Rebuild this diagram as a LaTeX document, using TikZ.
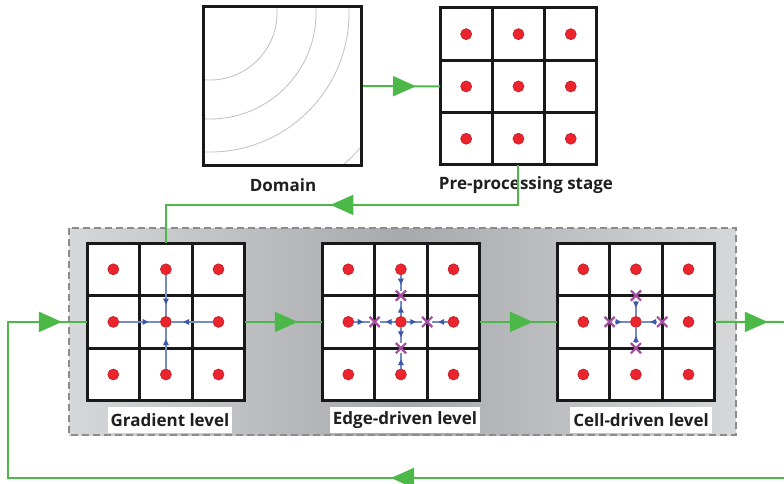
\documentclass[tikz,border=0pt]{standalone}
\usepackage{fontspec}
\setmainfont{Open Sans}
\usetikzlibrary{arrows.meta,decorations.markings,shapes.misc}

\definecolor{flowgreen}{RGB}{76,184,72}
\definecolor{dotred}{RGB}{236,36,46}
\definecolor{fluxblue}{RGB}{60,88,170}
\definecolor{facepurple}{RGB}{165,78,160}
\definecolor{stagedark}{RGB}{168,169,173}
\definecolor{stagelight}{RGB}{214,215,217}

\tikzset{
  cell/.style={draw=black!90, line width=3pt, fill=white, minimum size=52.6pt, inner sep=0pt, outer sep=0pt},
  precell/.style={cell, minimum size=52.3pt},
  dot/.style={circle, fill=dotred, draw=dotred!80!black, line width=0.6pt, minimum size=11pt, inner sep=0pt},
  face/.style={cross out, draw=facepurple, line width=2.2pt, minimum size=8pt, inner sep=0pt},
  flow/.style={draw=flowgreen, line width=2pt},
  flowtip/.style={postaction={decorate, decoration={markings,
      mark=at position #1 with {\arrow[flowgreen]{Triangle[length=23pt,width=20pt]}}}}},
  flux/.style={draw=fluxblue!70, line width=1.4pt},
  fluxtip/.style={postaction={decorate, decoration={markings,
      mark=at position #1 with {\arrow[fluxblue]{Triangle[length=6pt,width=5.5pt]}}}}},
  caption/.style={font=\bfseries\fontsize{17}{20}\selectfont, text=black!88},
  level/.style={caption, fill=white, inner xsep=3pt, inner ysep=0pt, minimum height=26pt},
  stage/.style={draw=black!45, line width=1.5pt, dash pattern=on 7pt off 4pt,
      left color=stagelight, right color=stagelight, middle color=stagedark},
}

\begin{document}
\begin{tikzpicture}[x=1pt,y=-1pt]
\useasboundingbox (0,0) rectangle (784,484);
% ---------- domain ----------
\begin{scope}
  \clip (203,7) rectangle (362,165);
  \foreach \rad in {67,106,139,202}
    \draw[black!25, line width=0.8pt] (210,13) circle[radius=\rad pt];
\end{scope}
\node[draw=black!90, line width=3pt, minimum size=158pt, inner sep=0pt] (dom) at (282.5,86) {};
\node[caption] (dom-lab) at (283,185) {Domain};
% ---------- pre-processing stage ----------
\foreach \r in {1,2,3}
  \foreach \c in {1,2,3} {
    \node[precell] (pre-\r\c) at ({440+(\c-0.5)*52.3},{8+(\r-0.5)*52.3}) {};
    \node[dot] (pre-\r\c-d) at (pre-\r\c.center) {};
  }
\node[caption] (pre-lab) at (526,185) {Pre-processing stage};
\draw[flow, flowtip=53pt] (dom.east) -- (pre-21.west);
% ---------- solver levels ----------
\draw[stage] (69,228) rectangle (736,435);
\foreach \g/\gx in {grad/87, edge/322, cell/557}
  \foreach \r in {1,2,3}
    \foreach \c in {1,2,3} {
      \node[cell] (\g-\r\c) at ({\gx+(\c-0.5)*52.6},{243+(\r-0.5)*52.6}) {};
      \node[dot] (\g-\r\c-d) at (\g-\r\c.center) {};
    }
\node[level] (grad-lab) at (170,420) {Gradient level};
\node[level] (edge-lab) at (405,420) {Edge-driven level};
\node[level] (cell-lab) at (641,420) {Cell-driven level};
% gradient: neighbours to centre
\foreach \a in {12,21,23,32}
  \draw[flux, fluxtip=0.72] (grad-\a-d) -- (grad-22-d);
% edge-driven: cell centres to faces
\node[face] (edge-fl) at (edge-22.west) {};
\node[face] (edge-fr) at (edge-22.east) {};
\node[face] (edge-ft) at (edge-22.north) {};
\node[face] (edge-fb) at (edge-22.south) {};
\foreach \a/\b in {21/fl,22/fl,23/fr,22/fr,12/ft,22/ft,32/fb,22/fb}
  \draw[flux, fluxtip=0.62] (edge-\a-d) -- (edge-\b);
% cell-driven: faces to centre
\node[face] (cell-fl) at (cell-22.west) {};
\node[face] (cell-fr) at (cell-22.east) {};
\node[face] (cell-ft) at (cell-22.north) {};
\node[face] (cell-fb) at (cell-22.south) {};
\foreach \b in {fl,fr,ft,fb}
  \draw[flux, fluxtip=0.45] (cell-\b) -- (cell-22-d);
% ---------- green flow ----------
\coordinate (out) at (784,322);
\coordinate (back) at (784,478);
\coordinate (loop) at (8,478);
\draw[flow, flowtip=228pt] (pre-32.south) -- ++(0,40) -| (grad-12.north);
\draw[flow, flowtip=53pt] (grad-23.east) -- (edge-21.west);
\draw[flow, flowtip=53pt] (edge-23.east) -- (cell-21.west);
\draw[flow, flowtip=53pt] (cell-23.east) -- (out);
\draw[flow, flowtip=393pt, flowtip=986pt] (back) -- (loop) |- (grad-21.west);
\end{tikzpicture}
\end{document}
